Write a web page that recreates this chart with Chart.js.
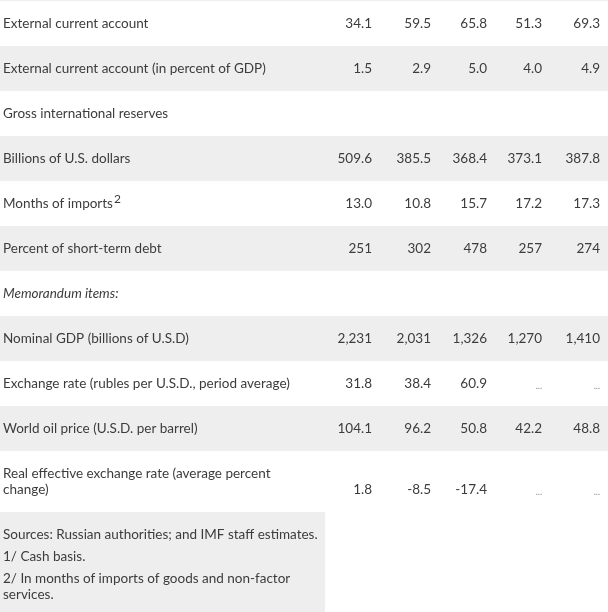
<!DOCTYPE html>
<html>
<head>
<meta charset="utf-8">
<script src="https://cdn.jsdelivr.net/npm/chart.js@4.4.1/dist/chart.umd.min.js"></script>
<style>
  html, body { margin: 0; padding: 0; background: #fff; }
  #table { display: block; }
</style>
</head>
<body>
<canvas id="table" width="608" height="612"></canvas>
<script>
// row labels (in display order)
const rowLabels = [
  "External current account",
  "External current account (in percent of GDP)",
  "Gross international reserves",
  "Billions of U.S. dollars",
  "Months of imports",
  "Percent of short-term debt",
  "Memorandum items:",
  "Nominal GDP (billions of U.S.D)",
  "Exchange rate (rubles per U.S.D., period average)",
  "World oil price (U.S.D. per barrel)",
  "Real effective exchange rate (average percent change)",
];
// values per row, null = not available ("...")
const currentAccount = [34.1, 59.5, 65.8, 51.3, 69.3];
const currentAccountPctGdp = [1.5, 2.9, 5.0, 4.0, 4.9];
const reservesUsd = [509.6, 385.5, 368.4, 373.1, 387.8];
const monthsOfImports = [13.0, 10.8, 15.7, 17.2, 17.3];
const pctShortTermDebt = [251, 302, 478, 257, 274];
const nominalGdp = [2231, 2031, 1326, 1270, 1410];
const exchangeRate = [31.8, 38.4, 60.9, null, null];
const oilPrice = [104.1, 96.2, 50.8, 42.2, 48.8];
const reer = [1.8, -8.5, -17.4, null, null];
const footnotes = [
  "Sources: Russian authorities; and IMF staff estimates.",
  "1/ Cash basis.",
  "2/ In months of imports of goods and non-factor services.",
];

const rowValues = [
  currentAccount, currentAccountPctGdp, null, reservesUsd, monthsOfImports,
  pctShortTermDebt, null, nominalGdp, exchangeRate, oilPrice, reer,
];
const rowDecimals = [1, 1, 0, 1, 1, 0, 0, 0, 1, 1, 1];

// layout / style
const FONT = "Lato, 'Noto Sans', sans-serif";
const SIZE = "13.5px ";
const TEXT = "#3c3c3c";
const SHADE = "#eeeeee";
const rowH = [45, 45, 45, 45, 45, 45, 45, 45, 45, 45, 61];
const shaded = [false, true, false, true, false, true, false, true, false, true, false];
const colRight = [372, 431, 487, 542, 600];
const labelX = 3;
const noteW = 325;

function fmt(v, d) {
  if (v === null) return "...";
  return v.toLocaleString("en-US", { minimumFractionDigits: d, maximumFractionDigits: d });
}

const tablePlugin = {
  id: "tablePlugin",
  beforeDatasetsDraw(chart) {
    const { ctx, scales: { x, y } } = chart;
    ctx.save();
    // thin top rule
    ctx.fillStyle = SHADE;
    ctx.fillRect(x.getPixelForValue(0), y.getPixelForValue(0), x.getPixelForValue(608), 1);

    let top = 1;
    ctx.textBaseline = "middle";
    rowLabels.forEach((label, i) => {
      const bottom = top + rowH[i];
      const py0 = y.getPixelForValue(top), py1 = y.getPixelForValue(bottom);
      if (shaded[i]) {
        ctx.fillStyle = SHADE;
        ctx.fillRect(x.getPixelForValue(0), py0, x.getPixelForValue(608), py1 - py0);
      }
      const lastLine = py1 - 22;
      ctx.fillStyle = TEXT;
      ctx.textAlign = "left";
      ctx.font = (i === 6 ? "italic " : "") + SIZE + FONT;
      if (i === 10) {
        ctx.fillText("Real effective exchange rate (average percent", x.getPixelForValue(labelX), lastLine - 16);
        ctx.fillText("change)", x.getPixelForValue(labelX), lastLine);
      } else {
        ctx.fillText(label, x.getPixelForValue(labelX), lastLine);
      }
      if (i === 4) {
        const w = ctx.measureText(label).width;
        ctx.font = "12px " + FONT;
        ctx.fillText("2", x.getPixelForValue(labelX) + w + 1, lastLine - 5);
      }
      const vals = rowValues[i];
      if (vals) {
        ctx.textAlign = "right";
        vals.forEach((v, j) => {
          if (v === null) {
            ctx.font = "9px " + FONT;
            ctx.fillStyle = "#888";
            ctx.fillText("...", x.getPixelForValue(colRight[j]), lastLine + 2);
          } else {
            ctx.font = SIZE + FONT;
            ctx.fillStyle = TEXT;
            ctx.fillText(fmt(v, rowDecimals[i]), x.getPixelForValue(colRight[j]), lastLine);
          }
        });
      }
      top = bottom;
    });

    // footnote block
    const ny0 = y.getPixelForValue(top), ny1 = y.getPixelForValue(612);
    ctx.fillStyle = SHADE;
    ctx.fillRect(x.getPixelForValue(0), ny0, x.getPixelForValue(noteW) - x.getPixelForValue(0), ny1 - ny0);
    ctx.fillStyle = TEXT;
    ctx.textAlign = "left";
    ctx.font = SIZE + FONT;
    let ly = ny0 + 23;
    footnotes.forEach((note) => {
      // simple word wrap inside the shaded block
      const words = note.split(" ");
      let line = "";
      const lines = [];
      words.forEach((w) => {
        const test = line ? line + " " + w : w;
        if (ctx.measureText(test).width > noteW - 6 && line) {
          lines.push(line);
          line = w;
        } else {
          line = test;
        }
      });
      lines.push(line);
      lines.forEach((l, k) => {
        ctx.fillText(l, x.getPixelForValue(labelX), ly + k * 16);
      });
      ly += (lines.length - 1) * 16 + 22;
    });
    ctx.restore();
  },
};

new Chart(document.getElementById("table"), {
  type: "scatter",
  data: { datasets: [{ data: [] }] },
  options: {
    responsive: false,
    animation: false,
    events: [],
    layout: { padding: 0 },
    plugins: { legend: { display: false }, tooltip: { enabled: false } },
    scales: {
      x: { type: "linear", min: 0, max: 608, display: false },
      y: { type: "linear", min: 0, max: 612, reverse: true, display: false },
    },
  },
  plugins: [tablePlugin],
});
</script>
</body>
</html>
